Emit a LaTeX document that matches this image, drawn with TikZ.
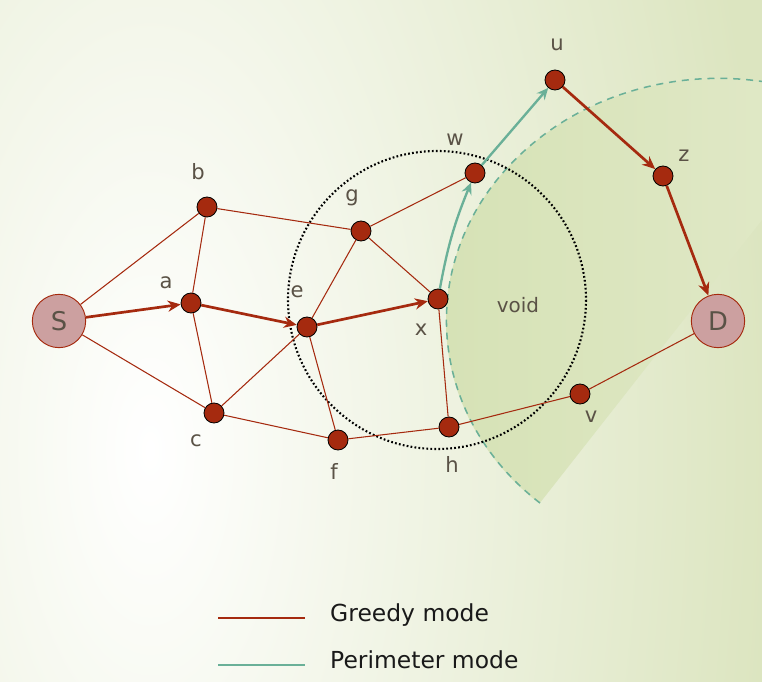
\documentclass[tikz,border=0pt]{standalone}
\usepackage{fontspec}
\setmainfont{DejaVu Sans}
\usetikzlibrary{arrows.meta}
\tikzset {>=Stealth}
\definecolor{rust}{RGB}{165,42,15}
\definecolor{pinkish}{RGB}{204,160,160}
\definecolor{labelgray}{RGB}{90,82,70}
\definecolor{perimgreen}{RGB}{106,176,152}
\definecolor{bggreen}{RGB}{220,229,192}
\definecolor{voiddark}{RGB}{214,226,182}
\definecolor{voidlight}{RGB}{230,236,208}
\tikzset{
  router/.style={circle,draw=black,fill=rust,minimum size=6mm,inner sep=0pt,line width=0.7pt},
  endpt/.style={circle,draw=rust,fill=pinkish,minimum size=16mm,inner sep=0pt,line width=0.8pt,
    text=labelgray,font=\fontsize{22}{24}\selectfont},
  lbl/.style={text=labelgray,font=\fontsize{18}{20}\selectfont,inner sep=0pt},
  legend/.style={text=black!90,font=\fontsize{20}{22}\selectfont,inner sep=0pt,anchor=west},
  link/.style={rust,line width=0.9pt},
  greedy/.style={rust,line width=2.3pt,-{Stealth[length=11pt,width=9.5pt,inset=3.5pt]}},
  perim/.style={perimgreen,line width=2pt,-{Stealth[length=10pt,width=9pt,inset=3.5pt]}},
  voidarc/.style={perimgreen,line width=1.3pt,dash pattern=on 6pt off 5pt},
  reach/.style={black,line width=1.8pt,dash pattern=on 1.5pt off 1.9pt}
}

\begin{document}
\begin{tikzpicture}[x=0.3mm,y=-0.3mm]
\clip (0,0) rectangle (762,682);
% background and the void region
\fill[bggreen] (0,0) rectangle (762,682);
\shade[inner color=white,outer color=bggreen] (150,450) ellipse[x radius=620,y radius=1300];
\begin{scope}
\clip (244,880) -- (944,-12) -- (-10,-12) -- (-10,880) -- cycle;
\shade[left color=voiddark,right color=voidlight] (718,321) ellipse[x radius=272,y radius=242];
\end{scope}
\draw[voidarc] (540,503) arc[start angle=131,end angle=300,x radius=272,y radius=242];
\draw[reach] (437,300) circle[radius=149];

% nodes
\node[endpt] (S) at (59,321) {S};
\node[endpt] (D) at (718,321) {D};
\node[router] (a) at (191,303) {};
\node[router] (b) at (207,207) {};
\node[router] (c) at (214,413) {};
\node[router] (e) at (307,327) {};
\node[router] (f) at (338,440) {};
\node[router] (g) at (361,231) {};
\node[router] (x) at (438,299) {};
\node[router] (w) at (475,173) {};
\node[router] (h) at (449,427) {};
\node[router] (v) at (580,394) {};
\node[router] (u) at (555,80) {};
\node[router] (z) at (663,176) {};

% labels
\node[lbl] (la) at (166,283) {a};
\node[lbl] (lb) at (198,172) {b};
\node[lbl] (lc) at (196,441) {c};
\node[lbl] (le) at (297,292) {e};
\node[lbl] (lf) at (334,471) {f};
\node[lbl] (lg) at (352,198) {g};
\node[lbl] (lw) at (455,140) {w};
\node[lbl] (lx) at (421,330) {x};
\node[lbl] (lh) at (452,464) {h};
\node[lbl] (lv) at (591,417) {v};
\node[lbl] (lu) at (557,45) {u};
\node[lbl] (lz) at (684,156) {z};
\node[lbl,font=\fontsize{17}{20}\selectfont] (void) at (518,305) {void};

% links
\foreach \i/\j in {S/b,S/c,a/b,a/c,b/g,c/e,c/f,e/g,e/f,g/x,g/w,x/h,f/h,h/v,v/D}
  \draw[link] (\i) -- (\j);
\foreach \i/\j in {S/a,a/e,e/x,u/z,z/D}
  \draw[greedy] (\i) -- (\j);
\draw[perim] (x) to[bend left=6] (w);
\draw[perim] (w) -- (u);

% legend
\coordinate (gA) at (218,618);
\coordinate (gB) at (305,618);
\draw[rust,line width=2.5pt] (gA) -- (gB);
\node[legend] (gtext) at (330,615) {Greedy mode};
\coordinate (pA) at (218,665);
\coordinate (pB) at (305,665);
\draw[perimgreen,line width=2pt] (pA) -- (pB);
\node[legend] (ptext) at (330,660) {Perimeter mode};
\end{tikzpicture}
\end{document}
